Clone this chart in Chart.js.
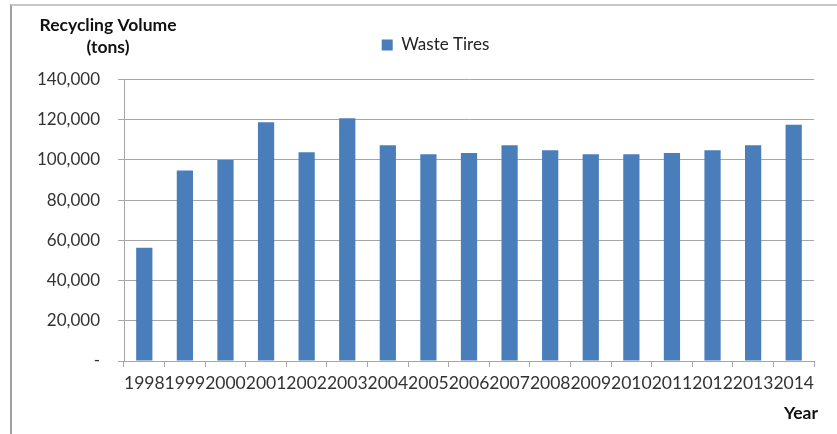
<!DOCTYPE html>
<html>
<head>
<meta charset="utf-8">
<script src="https://cdn.jsdelivr.net/npm/chart.js@4"></script>
<style>
  body { margin: 0; background: #fff; }
  #wrap { position: relative; width: 837px; height: 434px; }
  #frame {
    position: absolute; left: 10px; top: 4px; width: 900px; height: 500px;
    border-left: 2px solid #a0a0a0; border-top: 2px solid #c8c8c8;
    pointer-events: none;
  }
</style>
</head>
<body>
<div id="wrap">
  <canvas id="chart" width="837" height="434"></canvas>
  <div id="frame"></div>
</div>
<script>
const years = ["1998", "1999", "2000", "2001", "2002", "2003", "2004", "2005", "2006",
  "2007", "2008", "2009", "2010", "2011", "2012", "2013", "2014"];
const wasteTires = [56300, 94700, 100000, 118700, 103800, 120700, 107300, 102800, 103500,
  107300, 104800, 102800, 102800, 103500, 104800, 107300, 117500];
const yTicks = [0, 20000, 40000, 60000, 80000, 100000, 120000, 140000];

const FONT = "Lato, 'Open Sans', sans-serif";
const gridGray = "#a6a6a6";

// titres des axes dessinés à la main
const axisTitles = {
  id: "axisTitles",
  afterDraw(chart) {
    const ctx = chart.ctx;
    const area = chart.chartArea;
    ctx.save();
    ctx.fillStyle = "#111";
    ctx.font = "bold 17.5px " + FONT;
    ctx.textAlign = "center";
    ctx.textBaseline = "middle";
    ctx.fillText("Recycling Volume", area.left - 16, 25);
    ctx.fillText("(tons)", area.left - 16, 47);
    ctx.textAlign = "right";
    ctx.fillText("Year", area.right + 4, 413);
    ctx.restore();
  }
};

new Chart(document.getElementById("chart").getContext("2d"), {
  type: "bar",
  data: {
    labels: years,
    datasets: [{
      label: "Waste Tires",
      data: wasteTires,
      backgroundColor: "#4a7ebb",
      borderWidth: 0,
      barPercentage: 0.4,
      categoryPercentage: 1.0
    }]
  },
  options: {
    responsive: false,
    animation: false,
    layout: { padding: { left: 35, right: 1, top: 12, bottom: 0 } },
    plugins: {
      legend: {
        position: "top",
        labels: {
          boxWidth: 11,
          boxHeight: 11,
          padding: 24.5,
          color: "#222",
          font: { family: FONT, size: 17 }
        }
      },
      // titre vide, sert d'espace entre la légende et le graphique
      title: {
        display: true,
        text: "",
        position: "top",
        weight: 500,
        font: { size: 10, lineHeight: 1 },
        padding: { top: 0, bottom: 6 }
      },
      tooltip: { enabled: false }
    },
    scales: {
      x: {
        offset: true,
        grid: {
          offset: true,
          drawOnChartArea: false,
          drawTicks: true,
          tickLength: 6,
          color: gridGray
        },
        border: { color: gridGray },
        ticks: {
          autoSkip: false,
          maxRotation: 0,
          minRotation: 0,
          padding: 6,
          color: "#333",
          font: { family: FONT, size: 17.5 }
        },
        afterFit(scale) { scale.height = 73; }
      },
      y: {
        min: 0,
        max: 140000,
        afterBuildTicks(scale) { scale.ticks = yTicks.map(v => ({ value: v })); },
        grid: { color: gridGray, tickLength: 6 },
        border: { color: gridGray },
        ticks: {
          padding: 18,
          color: "#333",
          font: { family: FONT, size: 17 },
          callback: v => v === 0 ? "-" : v.toLocaleString("en-US")
        },
        afterFit(scale) { scale.width = 89; }
      },
      // axe vide à droite, juste pour garder la marge
      yRight: {
        position: "right",
        grid: { display: false },
        border: { display: false },
        ticks: { display: false },
        afterFit(scale) { scale.width = 22; }
      }
    }
  },
  plugins: [axisTitles]
});
</script>
</body>
</html>
